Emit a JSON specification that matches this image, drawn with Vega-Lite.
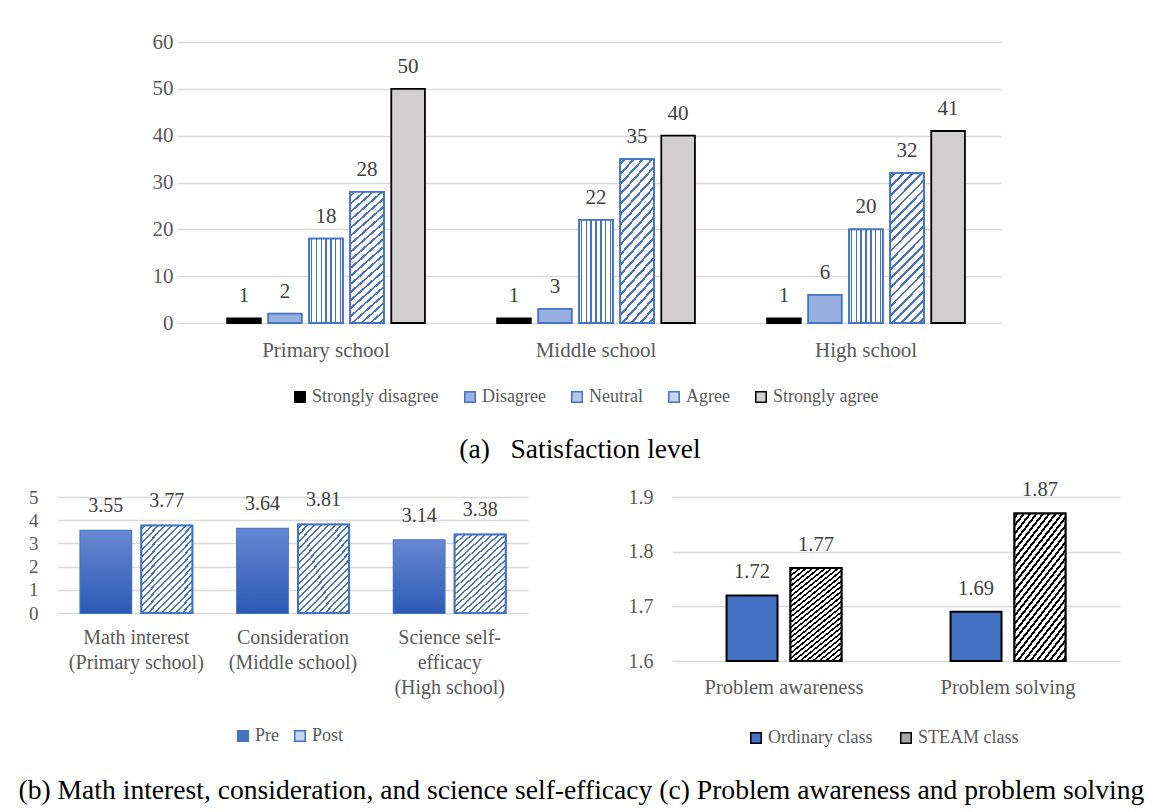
{
  "$schema": "https://vega.github.io/schema/vega-lite/v6.json",
  "padding": {"left": 18, "top": 31, "right": 5, "bottom": 5},
  "background": "#ffffff",
  "config": {
    "font": "Liberation Serif",
    "view": {"stroke": null},
    "axis": {"labelFont": "Liberation Serif", "labelColor": "#595959", "domain": false, "ticks": false, "gridColor": "#d9d9d9", "gridWidth": 1.5},
    "legend": {"direction": "horizontal", "symbolType": "square", "symbolSize": 110, "symbolStrokeWidth": 1.5, "labelFont": "Liberation Serif", "labelFontSize": 18, "labelColor": "#595959", "labelOffset": 3, "columnPadding": 22, "padding": 0},
    "title": {"font": "Liberation Serif", "fontWeight": "normal", "color": "#000000"}
  },
  "title": {"text": "(b) Math interest, consideration, and science self-efficacy (c) Problem awareness and problem solving", "orient": "bottom", "anchor": "start", "fontSize": 27.6, "fontWeight": "normal", "offset": 30, "dx": -10},
  "spacing": 16,
  "center": true,
  "resolve": {"scale": {"fill": "independent", "stroke": "independent", "xOffset": "independent", "x": "independent", "y": "independent"}},
  "vconcat": [
    {
      "width": 824,
      "height": 281,
      "title": {"text": "(a)\u00a0\u00a0\u00a0Satisfaction level", "orient": "bottom", "fontSize": 27.5, "offset": 30, "frame": "group", "dx": -9},
      "data": {"values": [
        {"school": "Primary school", "level": "Strongly disagree", "value": 1},
        {"school": "Primary school", "level": "Disagree", "value": 2},
        {"school": "Primary school", "level": "Neutral", "value": 18},
        {"school": "Primary school", "level": "Agree", "value": 28},
        {"school": "Primary school", "level": "Strongly agree", "value": 50},
        {"school": "Middle school", "level": "Strongly disagree", "value": 1},
        {"school": "Middle school", "level": "Disagree", "value": 3},
        {"school": "Middle school", "level": "Neutral", "value": 22},
        {"school": "Middle school", "level": "Agree", "value": 35},
        {"school": "Middle school", "level": "Strongly agree", "value": 40},
        {"school": "High school", "level": "Strongly disagree", "value": 1},
        {"school": "High school", "level": "Disagree", "value": 6},
        {"school": "High school", "level": "Neutral", "value": 20},
        {"school": "High school", "level": "Agree", "value": 32},
        {"school": "High school", "level": "Strongly agree", "value": 41}
      ]},
      "encoding": {
        "x": {"field": "school", "type": "nominal", "sort": ["Primary school", "Middle school", "High school"], "scale": {"paddingInner": 0.24, "paddingOuter": 0.146, "align": 0.589}, "axis": {"title": null, "labelAngle": 0, "labelFontSize": 21, "labelPadding": 16, "grid": false}},
        "xOffset": {"field": "level", "type": "nominal", "scale": {"domain": ["Strongly disagree", "Disagree", "Neutral", "Agree", "Strongly agree"], "paddingInner": 0.18, "paddingOuter": 0.09}},
        "y": {"field": "value", "type": "quantitative", "scale": {"domain": [0, 60]}, "axis": {"title": null, "values": [0, 10, 20, 30, 40, 50, 60], "labelFontSize": 21, "labelPadding": 4}}
      },
      "layer": [
        {
          "mark": {"type": "bar", "strokeWidth": 1.8},
          "encoding": {
            "fill": {"field": "level", "type": "nominal", "scale": {"domain": ["Strongly disagree", "Disagree", "Neutral", "Agree", "Strongly agree"], "range": ["#000000", "#97b0df", "#b7c8ea", "#c6d4ee", "#d0cece"]}, "legend": {"title": null, "orient": "none", "legendX": 114, "legendY": 346, "direction": "horizontal", "columnPadding": 22}},
            "stroke": {"field": "level", "type": "nominal", "scale": {"domain": ["Strongly disagree", "Disagree", "Neutral", "Agree", "Strongly agree"], "range": ["#000000", "#4472c4", "#4472c4", "#4472c4", "#000000"]}, "legend": {"title": null, "orient": "none", "legendX": 114, "legendY": 346, "direction": "horizontal", "columnPadding": 22}}
          }
        },
        {
          "transform": [{"filter": "datum.level === 'Neutral'"}],
          "mark": {"type": "bar", "stroke": "#4472c4", "strokeWidth": 1.8, "fill": {"gradient": "linear", "x1": 0, "y1": 0, "x2": 1, "y2": 0, "stops": [
            {"offset": 0, "color": "#ffffff"},
            {"offset": 0.05, "color": "#ffffff"}, {"offset": 0.05, "color": "#4472c4"}, {"offset": 0.0929, "color": "#4472c4"}, {"offset": 0.0929, "color": "#ffffff"},
            {"offset": 0.1929, "color": "#ffffff"}, {"offset": 0.1929, "color": "#4472c4"}, {"offset": 0.2357, "color": "#4472c4"}, {"offset": 0.2357, "color": "#ffffff"},
            {"offset": 0.3357, "color": "#ffffff"}, {"offset": 0.3357, "color": "#4472c4"}, {"offset": 0.3786, "color": "#4472c4"}, {"offset": 0.3786, "color": "#ffffff"},
            {"offset": 0.4786, "color": "#ffffff"}, {"offset": 0.4786, "color": "#4472c4"}, {"offset": 0.5214, "color": "#4472c4"}, {"offset": 0.5214, "color": "#ffffff"},
            {"offset": 0.6214, "color": "#ffffff"}, {"offset": 0.6214, "color": "#4472c4"}, {"offset": 0.6643, "color": "#4472c4"}, {"offset": 0.6643, "color": "#ffffff"},
            {"offset": 0.7643, "color": "#ffffff"}, {"offset": 0.7643, "color": "#4472c4"}, {"offset": 0.8071, "color": "#4472c4"}, {"offset": 0.8071, "color": "#ffffff"},
            {"offset": 0.9071, "color": "#ffffff"}, {"offset": 0.9071, "color": "#4472c4"}, {"offset": 0.95, "color": "#4472c4"}, {"offset": 0.95, "color": "#ffffff"},
            {"offset": 1, "color": "#ffffff"}
          ]}}
        },
        {
          "transform": [{"filter": "datum.level === 'Agree'"}],
          "mark": {"type": "bar", "stroke": "#4472c4", "strokeWidth": 1.8, "fill": {"gradient": "linear", "x1": 0, "y1": 0, "x2": 0.265, "y2": 1.167, "stops": [
            {"offset": 0, "color": "#ffffff"},
            {"offset": 0.0175, "color": "#ffffff"}, {"offset": 0.0175, "color": "#4472c4"}, {"offset": 0.0325, "color": "#4472c4"}, {"offset": 0.0325, "color": "#ffffff"},
            {"offset": 0.0675, "color": "#ffffff"}, {"offset": 0.0675, "color": "#4472c4"}, {"offset": 0.0825, "color": "#4472c4"}, {"offset": 0.0825, "color": "#ffffff"},
            {"offset": 0.1175, "color": "#ffffff"}, {"offset": 0.1175, "color": "#4472c4"}, {"offset": 0.1325, "color": "#4472c4"}, {"offset": 0.1325, "color": "#ffffff"},
            {"offset": 0.1675, "color": "#ffffff"}, {"offset": 0.1675, "color": "#4472c4"}, {"offset": 0.1825, "color": "#4472c4"}, {"offset": 0.1825, "color": "#ffffff"},
            {"offset": 0.2175, "color": "#ffffff"}, {"offset": 0.2175, "color": "#4472c4"}, {"offset": 0.2325, "color": "#4472c4"}, {"offset": 0.2325, "color": "#ffffff"},
            {"offset": 0.2675, "color": "#ffffff"}, {"offset": 0.2675, "color": "#4472c4"}, {"offset": 0.2825, "color": "#4472c4"}, {"offset": 0.2825, "color": "#ffffff"},
            {"offset": 0.3175, "color": "#ffffff"}, {"offset": 0.3175, "color": "#4472c4"}, {"offset": 0.3325, "color": "#4472c4"}, {"offset": 0.3325, "color": "#ffffff"},
            {"offset": 0.3675, "color": "#ffffff"}, {"offset": 0.3675, "color": "#4472c4"}, {"offset": 0.3825, "color": "#4472c4"}, {"offset": 0.3825, "color": "#ffffff"},
            {"offset": 0.4175, "color": "#ffffff"}, {"offset": 0.4175, "color": "#4472c4"}, {"offset": 0.4325, "color": "#4472c4"}, {"offset": 0.4325, "color": "#ffffff"},
            {"offset": 0.4675, "color": "#ffffff"}, {"offset": 0.4675, "color": "#4472c4"}, {"offset": 0.4825, "color": "#4472c4"}, {"offset": 0.4825, "color": "#ffffff"},
            {"offset": 0.5175, "color": "#ffffff"}, {"offset": 0.5175, "color": "#4472c4"}, {"offset": 0.5325, "color": "#4472c4"}, {"offset": 0.5325, "color": "#ffffff"},
            {"offset": 0.5675, "color": "#ffffff"}, {"offset": 0.5675, "color": "#4472c4"}, {"offset": 0.5825, "color": "#4472c4"}, {"offset": 0.5825, "color": "#ffffff"},
            {"offset": 0.6175, "color": "#ffffff"}, {"offset": 0.6175, "color": "#4472c4"}, {"offset": 0.6325, "color": "#4472c4"}, {"offset": 0.6325, "color": "#ffffff"},
            {"offset": 0.6675, "color": "#ffffff"}, {"offset": 0.6675, "color": "#4472c4"}, {"offset": 0.6825, "color": "#4472c4"}, {"offset": 0.6825, "color": "#ffffff"},
            {"offset": 0.7175, "color": "#ffffff"}, {"offset": 0.7175, "color": "#4472c4"}, {"offset": 0.7325, "color": "#4472c4"}, {"offset": 0.7325, "color": "#ffffff"},
            {"offset": 0.7675, "color": "#ffffff"}, {"offset": 0.7675, "color": "#4472c4"}, {"offset": 0.7825, "color": "#4472c4"}, {"offset": 0.7825, "color": "#ffffff"},
            {"offset": 0.8175, "color": "#ffffff"}, {"offset": 0.8175, "color": "#4472c4"}, {"offset": 0.8325, "color": "#4472c4"}, {"offset": 0.8325, "color": "#ffffff"},
            {"offset": 0.8675, "color": "#ffffff"}, {"offset": 0.8675, "color": "#4472c4"}, {"offset": 0.8825, "color": "#4472c4"}, {"offset": 0.8825, "color": "#ffffff"},
            {"offset": 0.9175, "color": "#ffffff"}, {"offset": 0.9175, "color": "#4472c4"}, {"offset": 0.9325, "color": "#4472c4"}, {"offset": 0.9325, "color": "#ffffff"},
            {"offset": 0.9675, "color": "#ffffff"}, {"offset": 0.9675, "color": "#4472c4"}, {"offset": 0.9825, "color": "#4472c4"}, {"offset": 0.9825, "color": "#ffffff"},
            {"offset": 1, "color": "#ffffff"}
          ]}}
        },
        {
          "mark": {"type": "text", "dy": -22, "fontSize": 21, "color": "#404040", "font": "Liberation Serif"},
          "encoding": {"text": {"field": "value", "type": "quantitative"}}
        }
      ]
    },
    {
      "spacing": 100,
      "resolve": {"scale": {"fill": "independent", "stroke": "independent", "xOffset": "independent", "x": "independent", "y": "independent"}},
      "hconcat": [
        {
          "width": 470,
          "height": 116,
          "data": {"values": [
            {"measure": "Math interest|(Primary school)", "phase": "Pre", "value": 3.55},
            {"measure": "Math interest|(Primary school)", "phase": "Post", "value": 3.77},
            {"measure": "Consideration|(Middle school)", "phase": "Pre", "value": 3.64},
            {"measure": "Consideration|(Middle school)", "phase": "Post", "value": 3.81},
            {"measure": "Science self-|efficacy|(High school)", "phase": "Pre", "value": 3.14},
            {"measure": "Science self-|efficacy|(High school)", "phase": "Post", "value": 3.38}
          ]},
          "encoding": {
            "x": {"field": "measure", "type": "nominal", "sort": null, "scale": {"paddingInner": 0.285, "paddingOuter": 0.1425}, "axis": {"title": null, "labelAngle": 0, "labelFontSize": 20, "labelPadding": 14, "labelLineHeight": 25, "grid": false, "labelExpr": "split(datum.label, '|')"}},
            "xOffset": {"field": "phase", "type": "nominal", "scale": {"domain": ["Pre", "Post"], "paddingInner": 0.164, "paddingOuter": 0}},
            "y": {"field": "value", "type": "quantitative", "scale": {"domain": [0, 5]}, "axis": {"title": null, "values": [0, 1, 2, 3, 4, 5], "labelFontSize": 19, "labelPadding": 20}}
          },
          "layer": [
            {
              "mark": {"type": "bar", "strokeWidth": 1.8},
              "encoding": {
                "fill": {"field": "phase", "type": "nominal", "scale": {"domain": ["Pre", "Post"], "range": ["#4472c4", "#c6d4ee"]}, "legend": {"title": null, "orient": "none", "legendX": 176, "legendY": 230, "direction": "horizontal", "columnPadding": 12}},
                "stroke": {"field": "phase", "type": "nominal", "scale": {"domain": ["Pre", "Post"], "range": ["#4472c4", "#4472c4"]}, "legend": {"title": null, "orient": "none", "legendX": 176, "legendY": 230, "direction": "horizontal", "columnPadding": 12}}
              }
            },
            {
              "transform": [{"filter": "datum.phase === 'Pre'"}],
              "mark": {"type": "bar", "strokeWidth": 0, "fill": {"gradient": "linear", "x1": 0, "y1": 0, "x2": 0, "y2": 1, "stops": [{"offset": 0, "color": "#6787d1"}, {"offset": 1, "color": "#2d5ab6"}]}}
            },
            {
              "transform": [{"filter": "datum.phase === 'Post'"}],
              "mark": {"type": "bar", "stroke": "#4472c4", "strokeWidth": 2, "fill": {"gradient": "linear", "x1": 0, "y1": 0, "x2": 0.706, "y2": 1.176, "stops": [
                {"offset": 0, "color": "#ffffff"},
                {"offset": 0.0175, "color": "#ffffff"}, {"offset": 0.0175, "color": "#4472c4"}, {"offset": 0.0325, "color": "#4472c4"}, {"offset": 0.0325, "color": "#ffffff"},
                {"offset": 0.0675, "color": "#ffffff"}, {"offset": 0.0675, "color": "#4472c4"}, {"offset": 0.0825, "color": "#4472c4"}, {"offset": 0.0825, "color": "#ffffff"},
                {"offset": 0.1175, "color": "#ffffff"}, {"offset": 0.1175, "color": "#4472c4"}, {"offset": 0.1325, "color": "#4472c4"}, {"offset": 0.1325, "color": "#ffffff"},
                {"offset": 0.1675, "color": "#ffffff"}, {"offset": 0.1675, "color": "#4472c4"}, {"offset": 0.1825, "color": "#4472c4"}, {"offset": 0.1825, "color": "#ffffff"},
                {"offset": 0.2175, "color": "#ffffff"}, {"offset": 0.2175, "color": "#4472c4"}, {"offset": 0.2325, "color": "#4472c4"}, {"offset": 0.2325, "color": "#ffffff"},
                {"offset": 0.2675, "color": "#ffffff"}, {"offset": 0.2675, "color": "#4472c4"}, {"offset": 0.2825, "color": "#4472c4"}, {"offset": 0.2825, "color": "#ffffff"},
                {"offset": 0.3175, "color": "#ffffff"}, {"offset": 0.3175, "color": "#4472c4"}, {"offset": 0.3325, "color": "#4472c4"}, {"offset": 0.3325, "color": "#ffffff"},
                {"offset": 0.3675, "color": "#ffffff"}, {"offset": 0.3675, "color": "#4472c4"}, {"offset": 0.3825, "color": "#4472c4"}, {"offset": 0.3825, "color": "#ffffff"},
                {"offset": 0.4175, "color": "#ffffff"}, {"offset": 0.4175, "color": "#4472c4"}, {"offset": 0.4325, "color": "#4472c4"}, {"offset": 0.4325, "color": "#ffffff"},
                {"offset": 0.4675, "color": "#ffffff"}, {"offset": 0.4675, "color": "#4472c4"}, {"offset": 0.4825, "color": "#4472c4"}, {"offset": 0.4825, "color": "#ffffff"},
                {"offset": 0.5175, "color": "#ffffff"}, {"offset": 0.5175, "color": "#4472c4"}, {"offset": 0.5325, "color": "#4472c4"}, {"offset": 0.5325, "color": "#ffffff"},
                {"offset": 0.5675, "color": "#ffffff"}, {"offset": 0.5675, "color": "#4472c4"}, {"offset": 0.5825, "color": "#4472c4"}, {"offset": 0.5825, "color": "#ffffff"},
                {"offset": 0.6175, "color": "#ffffff"}, {"offset": 0.6175, "color": "#4472c4"}, {"offset": 0.6325, "color": "#4472c4"}, {"offset": 0.6325, "color": "#ffffff"},
                {"offset": 0.6675, "color": "#ffffff"}, {"offset": 0.6675, "color": "#4472c4"}, {"offset": 0.6825, "color": "#4472c4"}, {"offset": 0.6825, "color": "#ffffff"},
                {"offset": 0.7175, "color": "#ffffff"}, {"offset": 0.7175, "color": "#4472c4"}, {"offset": 0.7325, "color": "#4472c4"}, {"offset": 0.7325, "color": "#ffffff"},
                {"offset": 0.7675, "color": "#ffffff"}, {"offset": 0.7675, "color": "#4472c4"}, {"offset": 0.7825, "color": "#4472c4"}, {"offset": 0.7825, "color": "#ffffff"},
                {"offset": 0.8175, "color": "#ffffff"}, {"offset": 0.8175, "color": "#4472c4"}, {"offset": 0.8325, "color": "#4472c4"}, {"offset": 0.8325, "color": "#ffffff"},
                {"offset": 0.8675, "color": "#ffffff"}, {"offset": 0.8675, "color": "#4472c4"}, {"offset": 0.8825, "color": "#4472c4"}, {"offset": 0.8825, "color": "#ffffff"},
                {"offset": 0.9175, "color": "#ffffff"}, {"offset": 0.9175, "color": "#4472c4"}, {"offset": 0.9325, "color": "#4472c4"}, {"offset": 0.9325, "color": "#ffffff"},
                {"offset": 0.9675, "color": "#ffffff"}, {"offset": 0.9675, "color": "#4472c4"}, {"offset": 0.9825, "color": "#4472c4"}, {"offset": 0.9825, "color": "#ffffff"},
                {"offset": 1, "color": "#ffffff"}
              ]}}
            },
            {
              "mark": {"type": "text", "dy": -24.5, "fontSize": 20, "color": "#404040", "font": "Liberation Serif"},
              "encoding": {"text": {"field": "value", "type": "quantitative", "format": ".2f"}}
            }
          ]
        },
        {
          "width": 448,
          "height": 164,
          "data": {"values": [
            {"skill": "Problem awareness", "group": "Ordinary class", "value": 1.72},
            {"skill": "Problem awareness", "group": "STEAM class", "value": 1.77},
            {"skill": "Problem solving", "group": "Ordinary class", "value": 1.69},
            {"skill": "Problem solving", "group": "STEAM class", "value": 1.87}
          ]},
          "encoding": {
            "x": {"field": "skill", "type": "nominal", "sort": null, "scale": {"paddingInner": 0.487, "paddingOuter": 0.2435}, "axis": {"title": null, "labelAngle": 0, "labelFontSize": 20.5, "labelPadding": 16, "grid": false}},
            "xOffset": {"field": "group", "type": "nominal", "scale": {"domain": ["Ordinary class", "STEAM class"], "paddingInner": 0.203, "paddingOuter": 0}},
            "y": {"field": "value", "type": "quantitative", "scale": {"domain": [1.6, 1.9], "zero": false}, "axis": {"title": null, "values": [1.6, 1.7, 1.8, 1.9], "format": ".1f", "labelFontSize": 20, "labelPadding": 19}}
          },
          "layer": [
            {
              "mark": {"type": "bar", "strokeWidth": 2},
              "encoding": {
                "y2": {"datum": 1.6},
                "fill": {"field": "group", "type": "nominal", "scale": {"domain": ["Ordinary class", "STEAM class"], "range": ["#4472c4", "#a6a6a6"]}, "legend": {"title": null, "orient": "none", "legendX": 75, "legendY": 232, "direction": "horizontal", "columnPadding": 24}},
                "stroke": {"field": "group", "type": "nominal", "scale": {"domain": ["Ordinary class", "STEAM class"], "range": ["#000000", "#000000"]}, "legend": {"title": null, "orient": "none", "legendX": 75, "legendY": 232, "direction": "horizontal", "columnPadding": 24}}
              }
            },
            {
              "transform": [{"filter": "datum.group === 'STEAM class'"}],
              "mark": {"type": "bar", "stroke": "#000000", "strokeWidth": 2, "fill": {"gradient": "linear", "x1": 0, "y1": 0, "x2": 0.535, "y2": 1.206, "stops": [
                {"offset": 0, "color": "#ffffff"},
                {"offset": 0.0115, "color": "#ffffff"}, {"offset": 0.0115, "color": "#000000"}, {"offset": 0.0269, "color": "#000000"}, {"offset": 0.0269, "color": "#ffffff"},
                {"offset": 0.05, "color": "#ffffff"}, {"offset": 0.05, "color": "#000000"}, {"offset": 0.0654, "color": "#000000"}, {"offset": 0.0654, "color": "#ffffff"},
                {"offset": 0.0885, "color": "#ffffff"}, {"offset": 0.0885, "color": "#000000"}, {"offset": 0.1038, "color": "#000000"}, {"offset": 0.1038, "color": "#ffffff"},
                {"offset": 0.1269, "color": "#ffffff"}, {"offset": 0.1269, "color": "#000000"}, {"offset": 0.1423, "color": "#000000"}, {"offset": 0.1423, "color": "#ffffff"},
                {"offset": 0.1654, "color": "#ffffff"}, {"offset": 0.1654, "color": "#000000"}, {"offset": 0.1808, "color": "#000000"}, {"offset": 0.1808, "color": "#ffffff"},
                {"offset": 0.2038, "color": "#ffffff"}, {"offset": 0.2038, "color": "#000000"}, {"offset": 0.2192, "color": "#000000"}, {"offset": 0.2192, "color": "#ffffff"},
                {"offset": 0.2423, "color": "#ffffff"}, {"offset": 0.2423, "color": "#000000"}, {"offset": 0.2577, "color": "#000000"}, {"offset": 0.2577, "color": "#ffffff"},
                {"offset": 0.2808, "color": "#ffffff"}, {"offset": 0.2808, "color": "#000000"}, {"offset": 0.2962, "color": "#000000"}, {"offset": 0.2962, "color": "#ffffff"},
                {"offset": 0.3192, "color": "#ffffff"}, {"offset": 0.3192, "color": "#000000"}, {"offset": 0.3346, "color": "#000000"}, {"offset": 0.3346, "color": "#ffffff"},
                {"offset": 0.3577, "color": "#ffffff"}, {"offset": 0.3577, "color": "#000000"}, {"offset": 0.3731, "color": "#000000"}, {"offset": 0.3731, "color": "#ffffff"},
                {"offset": 0.3962, "color": "#ffffff"}, {"offset": 0.3962, "color": "#000000"}, {"offset": 0.4115, "color": "#000000"}, {"offset": 0.4115, "color": "#ffffff"},
                {"offset": 0.4346, "color": "#ffffff"}, {"offset": 0.4346, "color": "#000000"}, {"offset": 0.45, "color": "#000000"}, {"offset": 0.45, "color": "#ffffff"},
                {"offset": 0.4731, "color": "#ffffff"}, {"offset": 0.4731, "color": "#000000"}, {"offset": 0.4885, "color": "#000000"}, {"offset": 0.4885, "color": "#ffffff"},
                {"offset": 0.5115, "color": "#ffffff"}, {"offset": 0.5115, "color": "#000000"}, {"offset": 0.5269, "color": "#000000"}, {"offset": 0.5269, "color": "#ffffff"},
                {"offset": 0.55, "color": "#ffffff"}, {"offset": 0.55, "color": "#000000"}, {"offset": 0.5654, "color": "#000000"}, {"offset": 0.5654, "color": "#ffffff"},
                {"offset": 0.5885, "color": "#ffffff"}, {"offset": 0.5885, "color": "#000000"}, {"offset": 0.6038, "color": "#000000"}, {"offset": 0.6038, "color": "#ffffff"},
                {"offset": 0.6269, "color": "#ffffff"}, {"offset": 0.6269, "color": "#000000"}, {"offset": 0.6423, "color": "#000000"}, {"offset": 0.6423, "color": "#ffffff"},
                {"offset": 0.6654, "color": "#ffffff"}, {"offset": 0.6654, "color": "#000000"}, {"offset": 0.6808, "color": "#000000"}, {"offset": 0.6808, "color": "#ffffff"},
                {"offset": 0.7038, "color": "#ffffff"}, {"offset": 0.7038, "color": "#000000"}, {"offset": 0.7192, "color": "#000000"}, {"offset": 0.7192, "color": "#ffffff"},
                {"offset": 0.7423, "color": "#ffffff"}, {"offset": 0.7423, "color": "#000000"}, {"offset": 0.7577, "color": "#000000"}, {"offset": 0.7577, "color": "#ffffff"},
                {"offset": 0.7808, "color": "#ffffff"}, {"offset": 0.7808, "color": "#000000"}, {"offset": 0.7962, "color": "#000000"}, {"offset": 0.7962, "color": "#ffffff"},
                {"offset": 0.8192, "color": "#ffffff"}, {"offset": 0.8192, "color": "#000000"}, {"offset": 0.8346, "color": "#000000"}, {"offset": 0.8346, "color": "#ffffff"},
                {"offset": 0.8577, "color": "#ffffff"}, {"offset": 0.8577, "color": "#000000"}, {"offset": 0.8731, "color": "#000000"}, {"offset": 0.8731, "color": "#ffffff"},
                {"offset": 0.8962, "color": "#ffffff"}, {"offset": 0.8962, "color": "#000000"}, {"offset": 0.9115, "color": "#000000"}, {"offset": 0.9115, "color": "#ffffff"},
                {"offset": 0.9346, "color": "#ffffff"}, {"offset": 0.9346, "color": "#000000"}, {"offset": 0.95, "color": "#000000"}, {"offset": 0.95, "color": "#ffffff"},
                {"offset": 0.9731, "color": "#ffffff"}, {"offset": 0.9731, "color": "#000000"}, {"offset": 0.9885, "color": "#000000"}, {"offset": 0.9885, "color": "#ffffff"},
                {"offset": 1, "color": "#ffffff"}
              ]}},
              "encoding": {"y2": {"datum": 1.6}}
            },
            {
              "mark": {"type": "text", "dy": -23, "fontSize": 20.5, "color": "#404040", "font": "Liberation Serif"},
              "encoding": {"text": {"field": "value", "type": "quantitative", "format": ".2f"}}
            }
          ]
        }
      ]
    }
  ]
}
